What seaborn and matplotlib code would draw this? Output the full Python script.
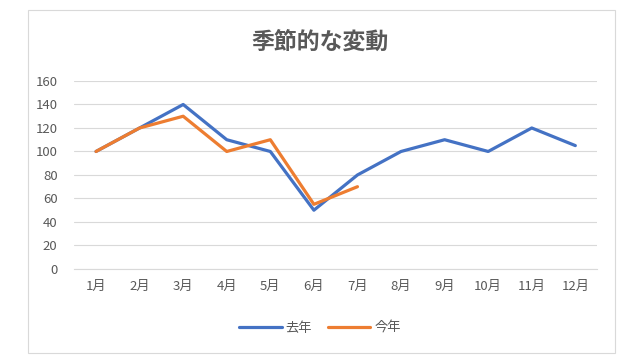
import pandas as pd
import seaborn as sns
import matplotlib.pyplot as plt
from matplotlib.patches import Rectangle

months = ['1月', '2月', '3月', '4月', '5月', '6月', '7月', '8月', '9月', '10月', '11月', '12月']
last_year = [100, 120, 140, 110, 100, 50, 80, 100, 110, 100, 120, 105]
this_year = [100, 120, 130, 100, 110, 55, 70]
series_names = ['去年', '今年']
colors = ['#4472C4', '#ED7D31']
y_ticks = [0, 20, 40, 60, 80, 100, 120, 140, 160]

df = pd.concat([
    pd.DataFrame({'month': months, 'idx': range(len(months)), 'value': last_year, 'series': series_names[0]}),
    pd.DataFrame({'month': months[:len(this_year)], 'idx': range(len(this_year)), 'value': this_year, 'series': series_names[1]}),
])

sns.set_style('white')
plt.rcParams['font.family'] = ['Noto Sans CJK JP', 'DejaVu Sans']

fig = plt.figure(figsize=(6.4, 3.6), dpi=100)
ax = fig.add_axes([0.116, 0.253, 0.817, 0.522])

# outer chart border
fig.patches.append(Rectangle((28 / 640, 1 - 353 / 360), 587 / 640, 343 / 360,
                             transform=fig.transFigure, fill=False, edgecolor='#D9D9D9', linewidth=0.8))

sns.lineplot(data=df, x='idx', y='value', hue='series', hue_order=series_names,
             palette=colors, linewidth=2.3, ax=ax, legend=False, sort=False)

ax.set_xlim(-0.5, len(months) - 0.5)
ax.set_ylim(0, 160)
ax.set_yticks(y_ticks)
ax.set_xticks(range(len(months)))
ax.set_xticklabels(months)
ax.set_xlabel('')
ax.set_ylabel('')
ax.yaxis.grid(True, color='#D9D9D9', linewidth=0.8)
ax.xaxis.grid(False)
for s in ['top', 'right', 'left']:
    ax.spines[s].set_visible(False)
ax.spines['bottom'].set_color('#D9D9D9')
ax.spines['bottom'].set_linewidth(0.8)
ax.tick_params(axis='both', length=0, labelsize=9.5, labelcolor='#595959', pad=8)
ax.tick_params(axis='y', pad=12)

fig.text(0.5, 1 - 42 / 360, '季節的な変動', ha='center', va='center',
         fontsize=16.5, fontweight='bold', color='#595959')

handles = [plt.Line2D([], [], color=c, linewidth=2.3) for c in colors]
fig.legend(handles, series_names, loc='center', bbox_to_anchor=(0.5, 1 - 328 / 360),
           ncol=2, frameon=False, fontsize=9.5, labelcolor='#595959',
           handlelength=3.2, columnspacing=1.2, handletextpad=0.3)

fig.savefig('out.png', dpi=100)
